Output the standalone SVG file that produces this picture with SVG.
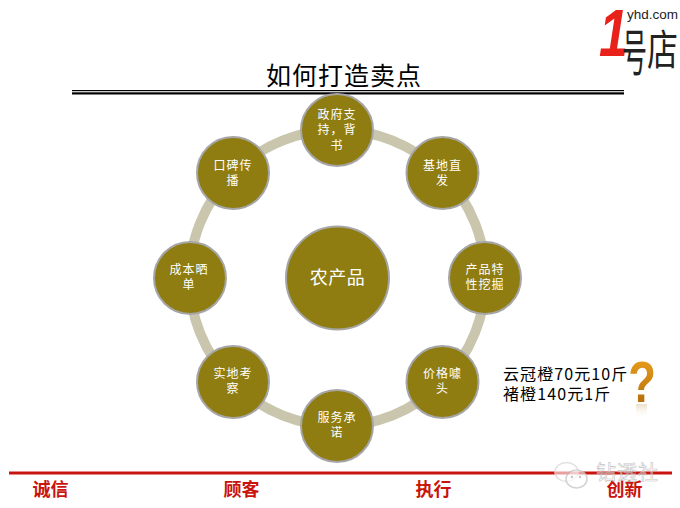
<svg xmlns="http://www.w3.org/2000/svg" width="680" height="508" viewBox="0 0 680 508">
<style>
text{font-family:"Noto Sans CJK SC","Liberation Sans",sans-serif}
.n{fill:#8f7d12;stroke:#a6a6a6;stroke-width:2}
.l{fill:#fff;font-size:12px;text-anchor:middle;letter-spacing:1px}
.f{fill:#c9140e;font-size:18px;font-weight:700;text-anchor:middle}
.p{fill:#000;font-size:16px;letter-spacing:1.100px}
</style>
<defs>
<linearGradient id="q" x1="0" y1="0" x2="0" y2="1"><stop offset="0" stop-color="#f2a41f"/><stop offset="1" stop-color="#a8650a"/></linearGradient>
<linearGradient id="r" x1="0" y1="0" x2="0" y2="1"><stop offset="0" stop-color="#d9b98a" stop-opacity=".45"/><stop offset="1" stop-color="#fff" stop-opacity="0"/></linearGradient>
</defs>
<rect width="680" height="508" fill="#fff"/>
<g id="logo">
<text transform="translate(599 56) scale(.78 1)" font-size="67" font-weight="700" font-style="italic" fill="#e8211a" style="font-family:'Liberation Sans',sans-serif">1</text>
<text x="627" y="19" font-size="13.500" fill="#222" style="font-family:'Liberation Sans',sans-serif">yhd.com</text>
<text transform="translate(622 71) scale(1 2)" font-size="25" fill="#222">号</text>
<text transform="translate(647 65) scale(1 1.350)" font-size="31" fill="#222">店</text>
</g>
<g id="title">
<text x="344" y="85" font-size="25" text-anchor="middle" fill="#000" letter-spacing="1">如何打造卖点</text>
<rect x="72" y="90" width="552" height="1.200" fill="#000"/>
<rect x="72" y="92.300" width="552" height="2.200" fill="#000"/>
</g>
<g id="connectors">
<circle cx="337.500" cy="278" r="148" fill="none" stroke="#c9c6ad" stroke-width="10"/>
</g>
<g id="center"><circle class="n" cx="337.500" cy="278" r="51.500"/><text x="337.500" y="284" fill="#fff" font-size="18" letter-spacing=".5" text-anchor="middle">农产品</text></g>
<g id="node-1"><circle class="n" cx="337" cy="130" r="36"/><text class="l" x="337" y="119">政府支</text><text class="l" x="337" y="134">持，背</text><text class="l" x="337" y="150">书</text></g>
<g id="node-2"><circle class="n" cx="442.500" cy="173" r="36"/><text class="l" x="442.500" y="170">基地直</text><text class="l" x="442.500" y="185">发</text></g>
<g id="node-3"><circle class="n" cx="485" cy="278" r="36"/><text class="l" x="485" y="274">产品特</text><text class="l" x="485" y="289">性挖掘</text></g>
<g id="node-4"><circle class="n" cx="442.500" cy="382" r="36"/><text class="l" x="442.500" y="378">价格噱</text><text class="l" x="442.500" y="393">头</text></g>
<g id="node-5"><circle class="n" cx="337" cy="426" r="36"/><text class="l" x="337" y="422">服务承</text><text class="l" x="337" y="437">诺</text></g>
<g id="node-6"><circle class="n" cx="233" cy="382" r="36"/><text class="l" x="233" y="378">实地考</text><text class="l" x="233" y="393">察</text></g>
<g id="node-7"><circle class="n" cx="190" cy="278" r="36"/><text class="l" x="189" y="274">成本晒</text><text class="l" x="189" y="289">单</text></g>
<g id="node-8"><circle class="n" cx="233" cy="173" r="36"/><text class="l" x="233" y="170">口碑传</text><text class="l" x="233" y="185">播</text></g>
<g id="price">
<text class="p" x="503" y="380">云冠橙70元10斤</text>
<text class="p" x="503" y="400">褚橙140元1斤</text>
<text transform="translate(642 402) scale(.78 1)" font-size="58" font-weight="700" fill="url(#q)" text-anchor="middle" style="font-family:'Liberation Sans',sans-serif">?</text>
<rect x="636" y="404" width="11" height="15" fill="url(#r)"/>
</g>
<g id="footer">
<rect x="9" y="471.500" width="663" height="3" fill="#c9140e"/>
<text class="f" x="50.500" y="496">诚信</text>
<text class="f" x="241.500" y="496">顾客</text>
<text class="f" x="433.500" y="496">执行</text>
<text class="f" x="624.500" y="496">创新</text>
</g>
<g id="watermark" opacity=".85">
<ellipse cx="566.500" cy="472" rx="11.500" ry="9.500" fill="#fff" fill-opacity=".7" stroke="#ddd" stroke-width="1.500"/>
<ellipse cx="576.500" cy="479" rx="10.500" ry="9" fill="#fff" fill-opacity=".7" stroke="#ccc" stroke-width="1.500"/>
<circle cx="572" cy="477" r="1.200" fill="#bbb"/><circle cx="580" cy="477" r="1.200" fill="#bbb"/>
<text x="596" y="480" font-size="20" fill="#fff" fill-opacity=".5" stroke="#bbb" stroke-width=".6" letter-spacing="1">钻透社</text>
</g>
</svg>
